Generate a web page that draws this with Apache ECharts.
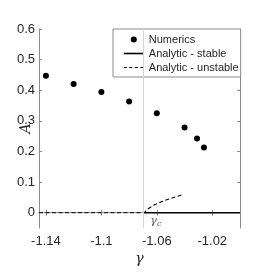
<!DOCTYPE html>
<html>
<head>
<meta charset="utf-8">
<script src="https://cdn.jsdelivr.net/npm/echarts@6/dist/echarts.min.js"></script>
<style>html,body{margin:0;padding:0;background:#fff}#c{width:274px;height:274px}</style>
</head>
<body>
<div id="c"></div>
<script>
// Data
var gammaC = -1.069;
var numericsGamma = [-1.14, -1.12, -1.10, -1.08, -1.06, -1.04, -1.031, -1.026];
var numericsA = [0.447, 0.420, 0.394, 0.363, 0.325, 0.278, 0.242, 0.213];
var stableGamma = [-1.069, -1.0];
var stableA = [0, 0];
var unstableGamma = [-1.145, -1.069, -1.0665, -1.0625, -1.056, -1.049, -1.042];
var unstableA = [0, 0, 0.012, 0.024, 0.037, 0.048, 0.058];
var xTicks = [-1.14, -1.1, -1.06, -1.02];
var yTicks = [0, 0.1, 0.2, 0.3, 0.4, 0.5, 0.6];
var xRange = [-1.145, -1.0];
var yRange = [-0.05, 0.6];

function zip(a, b) { return a.map(function (v, i) { return [v, b[i]]; }); }

var axisCol = '#8c8c8c';
var txtCol = '#262626';
var font = 'Liberation Sans';

var chart = echarts.init(document.getElementById('c'), null, {renderer: 'canvas'});
chart.setOption({
  animation: false,
  backgroundColor: '#fff',
  grid: {left: 39, top: 29, right: 34, bottom: 46, containLabel: false, outerBoundsMode: 'none'},
  legend: {
    orient: 'vertical',
    left: 113, top: 29,
    padding: [5, 2, 4, 10],
    itemGap: 3,
    itemWidth: 20, itemHeight: 6,
    itemTextGap: 7,
    borderColor: '#8c8c8c', borderWidth: 1,
    backgroundColor: '#fff',
    textStyle: {fontFamily: font, fontSize: 11, color: txtCol},
    data: [
      {name: 'Numerics', icon: 'circle', itemStyle: {color: '#000', opacity: 1}},
      {name: 'Analytic - stable', itemStyle: {opacity: 0}, lineStyle: {color: '#000', width: 1.6, type: 'solid'}},
      {name: 'Analytic - unstable', itemStyle: {opacity: 0}, lineStyle: {color: '#000', width: 1, type: [3, 2.5]}}
    ]
  },
  xAxis: [{
    type: 'value', min: xRange[0], max: xRange[1],
    name: 'γ', nameLocation: 'middle', nameGap: 24, nameMoveOverlap: false,
    nameTextStyle: {fontFamily: 'DejaVu Serif', fontStyle: 'italic', fontSize: 14, color: txtCol},
    axisLine: {show: true, lineStyle: {color: axisCol, width: 1}},
    axisTick: {show: true, inside: true, length: 3, lineStyle: {color: axisCol}, customValues: xTicks},
    axisLabel: {show: true, customValues: xTicks, fontFamily: font, fontSize: 13, color: txtCol, margin: 7},
    splitLine: {show: false}
  }, {
    type: 'value', position: 'top', min: xRange[0], max: xRange[1],
    axisLine: {show: true, lineStyle: {color: axisCol, width: 1}},
    axisTick: {show: true, inside: true, length: 3, lineStyle: {color: axisCol}, customValues: xTicks},
    axisLabel: {show: false},
    splitLine: {show: false}
  }],
  yAxis: [{
    type: 'value', min: yRange[0], max: yRange[1],
    name: 'A', nameLocation: 'middle', nameGap: 6, nameRotate: 90, nameMoveOverlap: false,
    nameTextStyle: {fontFamily: 'DejaVu Serif', fontStyle: 'italic', fontSize: 14, color: txtCol, padding: [0, 0, 0, 0]},
    axisLine: {show: true, lineStyle: {color: axisCol, width: 1}},
    axisTick: {show: true, inside: true, length: 3, lineStyle: {color: axisCol}, customValues: yTicks},
    axisLabel: {show: true, customValues: yTicks, fontFamily: font, fontSize: 13, color: txtCol, margin: 4},
    splitLine: {show: false}
  }, {
    type: 'value', position: 'right', min: yRange[0], max: yRange[1],
    axisLine: {show: true, lineStyle: {color: axisCol, width: 1}},
    axisTick: {show: true, inside: true, length: 3, lineStyle: {color: axisCol}, customValues: yTicks},
    axisLabel: {show: false},
    splitLine: {show: false}
  }],
  series: [
    {
      name: 'gammaC', type: 'line', data: [], silent: true,
      markLine: {
        silent: true, symbol: 'none', animation: false,
        label: {show: false},
        lineStyle: {color: '#d4d4d4', width: 1, type: 'solid'},
        data: [{xAxis: gammaC}]
      },
      z: 1
    },
    {
      name: 'Analytic - unstable', type: 'line', data: zip(unstableGamma, unstableA),
      showSymbol: false, symbol: 'none', smooth: false,
      lineStyle: {color: '#000', width: 1.1, type: [4, 2.5]},
      itemStyle: {color: '#000'}, z: 3
    },
    {
      name: 'Analytic - stable', type: 'line', data: zip(stableGamma, stableA),
      showSymbol: false, symbol: 'none',
      lineStyle: {color: '#000', width: 1.6, type: 'solid'},
      itemStyle: {color: '#000'}, z: 4
    },
    {
      name: 'Numerics', type: 'scatter', data: zip(numericsGamma, numericsA),
      symbol: 'circle', symbolSize: 6,
      itemStyle: {color: '#000', opacity: 1}, z: 5
    },
    {
      name: 'gammaCLabel', type: 'scatter', data: [[gammaC, 0]], symbolSize: 0, silent: true,
      label: {
        show: true, position: [6, 1],
        formatter: 'γ{s|c}',
        fontFamily: 'DejaVu Serif', fontStyle: 'italic', fontSize: 11, color: txtCol,
        rich: {s: {fontFamily: 'DejaVu Serif', fontStyle: 'italic', fontSize: 8, verticalAlign: 'bottom', padding: [6, 0, 0, 0], color: txtCol}}
      },
      z: 6
    }
  ]
});
</script>
</body>
</html>
